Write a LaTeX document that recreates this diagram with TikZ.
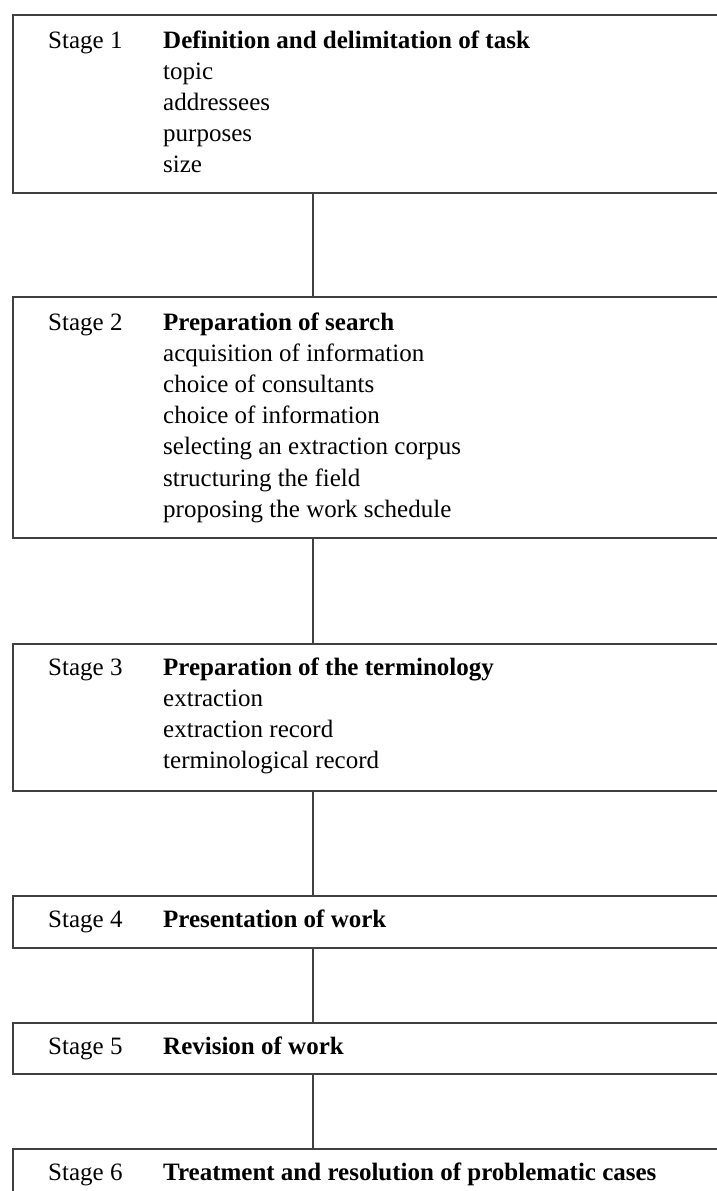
\documentclass[tikz,border=0pt]{standalone}
\usepackage{fontspec}
\setmainfont{Liberation Serif}
\usetikzlibrary{positioning}

\begin{document}
\begin{tikzpicture}[x=1pt,y=-1pt,
every node/.style={font=\fontsize{25}{31.2}\selectfont,inner sep=0pt},
stagebox/.style={draw=black!75,line width=1.6pt,minimum width=780pt,anchor=north west},
stagelbl/.style={anchor=base west},
stagetxt/.style={anchor=base west,align=left},
link/.style={draw=black!75,line width=1.6pt}]
\useasboundingbox (0,0) rectangle (717,1191);
\coordinate (spine) at (313,0);
% boxes
\node[stagebox,minimum height=178pt] (s1) at (12,14) {};
\node[stagebox,minimum height=241pt] (s2) at (12,296) {};
\node[stagebox,minimum height=147pt] (s3) at (12,643) {};
\node[stagebox,minimum height=52pt] (s4) at (12,895) {};
\node[stagebox,minimum height=51pt] (s5) at (12,1022) {};
\node[stagebox,minimum height=80pt] (s6) at (12,1148) {};
% labels (text nodes sit on the baseline of their last line)
\node[stagelbl] (l1) at (48,48) {Stage 1};
\node[stagetxt] (t1) at (163,172.8) {\textbf{Definition and delimitation of task}\\
topic\\ addressees\\ purposes\\ size};
\node[stagelbl] (l2) at (48,330) {Stage 2};
\node[stagetxt] (t2) at (163,517.2) {\textbf{Preparation of search}\\
acquisition of information\\ choice of consultants\\ choice of information\\
selecting an extraction corpus\\ structuring the field\\ proposing the work schedule};
\node[stagelbl] (l3) at (48,675) {Stage 3};
\node[stagetxt] (t3) at (163,768.6) {\textbf{Preparation of the terminology}\\
extraction\\ extraction record\\ terminological record};
\node[stagelbl] (l4) at (48,927) {Stage 4};
\node[stagetxt] (t4) at (163,927) {\textbf{Presentation of work}};
\node[stagelbl] (l5) at (48,1054) {Stage 5};
\node[stagetxt] (t5) at (163,1054) {\textbf{Revision of work}};
\node[stagelbl] (l6) at (48,1180) {Stage 6};
\node[stagetxt] (t6) at (163,1180) {\textbf{Treatment and resolution of problematic cases}};
% connectors
\foreach \a/\b in {s1/s2,s2/s3,s3/s4,s4/s5,s5/s6}
  \draw[link] (\a.south -| spine) -- (\b.north -| spine);
\end{tikzpicture}
\end{document}
